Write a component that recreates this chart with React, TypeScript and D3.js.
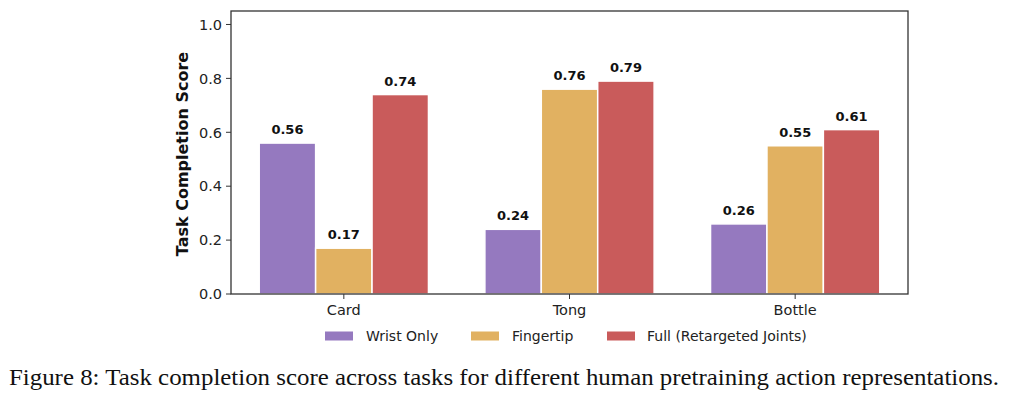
import * as d3 from "d3";

const TASKS = ["Card", "Tong", "Bottle"];
const SERIES = ["Wrist Only", "Fingertip", "Full (Retargeted Joints)"];
const WRIST_ONLY = [0.56, 0.24, 0.26];
const FINGERTIP = [0.17, 0.76, 0.55];
const FULL = [0.74, 0.79, 0.61];
const Y_TICKS = [0, 0.2, 0.4, 0.6, 0.8, 1.0];
const COLORS = ["#9579bf", "#e1b161", "#c95b5b"];

const CAPTION = "Figure 8: Task completion score across tasks for different human pretraining action representations.";

export default function App() {
  const W = 1024, H = 396;
  const m = { left: 231, right: 908, top: 11, bottom: 294 };
  const values = [WRIST_ONLY, FINGERTIP, FULL];

  const x = d3.scaleLinear().domain([-0.5, 2.5]).range([m.left, m.right]);
  const y = d3.scaleLinear().domain([0, 1.05]).range([m.bottom, m.top]);
  const barW = 0.25;
  const font = "'DejaVu Sans', sans-serif";

  // legend layout (handle x, text x)
  const legend = [
    { hx: 325, tx: 366 },
    { hx: 471, tx: 512 },
    { hx: 607, tx: 647 },
  ];

  return (
    <svg width={W} height={H} style={{ position: "absolute", left: 0, top: 0, background: "#fff" }}>
      {/* bars */}
      {values.map((vals, s) =>
        vals.map((v, i) => {
          const cx = x(i + (s - 1) * barW);
          const x0 = x(i + (s - 1) * barW - barW / 2);
          const x1 = x(i + (s - 1) * barW + barW / 2);
          return (
            <g key={`${s}-${i}`}>
              <rect x={x0} y={y(v)} width={x1 - x0} height={y(0) - y(v)}
                fill={COLORS[s]} stroke="#fff" strokeWidth={1.5} />
              <text x={cx} y={y(v) - 9} textAnchor="middle" fontFamily={font}
                fontSize={13} fontWeight="bold" fill="#111">{v.toFixed(2)}</text>
            </g>
          );
        })
      )}

      {/* axes frame */}
      <rect x={m.left} y={m.top} width={m.right - m.left} height={m.bottom - m.top}
        fill="none" stroke="#333" strokeWidth={1.3} />

      {/* y ticks */}
      {Y_TICKS.map(t => (
        <g key={t}>
          <line x1={m.left - 5} x2={m.left} y1={y(t)} y2={y(t)} stroke="#333" strokeWidth={1} />
          <text x={m.left - 9} y={y(t)} dy="0.36em" textAnchor="end" fontFamily={font}
            fontSize={14.5} fill="#222">{t.toFixed(1)}</text>
        </g>
      ))}

      {/* x ticks */}
      {TASKS.map((t, i) => (
        <g key={t}>
          <line x1={x(i)} x2={x(i)} y1={m.bottom} y2={m.bottom + 5} stroke="#333" strokeWidth={1} />
          <text x={x(i)} y={315} textAnchor="middle" fontFamily={font} fontSize={14.5} fill="#222">{t}</text>
        </g>
      ))}

      {/* y label */}
      <text transform={`translate(188,154) rotate(-90)`} textAnchor="middle"
        fontFamily={font} fontSize={16} fontWeight="bold" fill="#111">Task Completion Score</text>

      {/* legend */}
      {SERIES.map((s, i) => (
        <g key={s}>
          <rect x={legend[i].hx} y={331.5} width={28} height={9} fill={COLORS[i]} />
          <text x={legend[i].tx} y={341} fontFamily={font} fontSize={14} fill="#222">{s}</text>
        </g>
      ))}

      {/* caption */}
      <text x={9} y={385} fontFamily="'Liberation Serif', 'DejaVu Serif', serif" fontSize={23.5}
        fill="#111" textLength={990} lengthAdjust="spacingAndGlyphs">{CAPTION}</text>
    </svg>
  );
}
